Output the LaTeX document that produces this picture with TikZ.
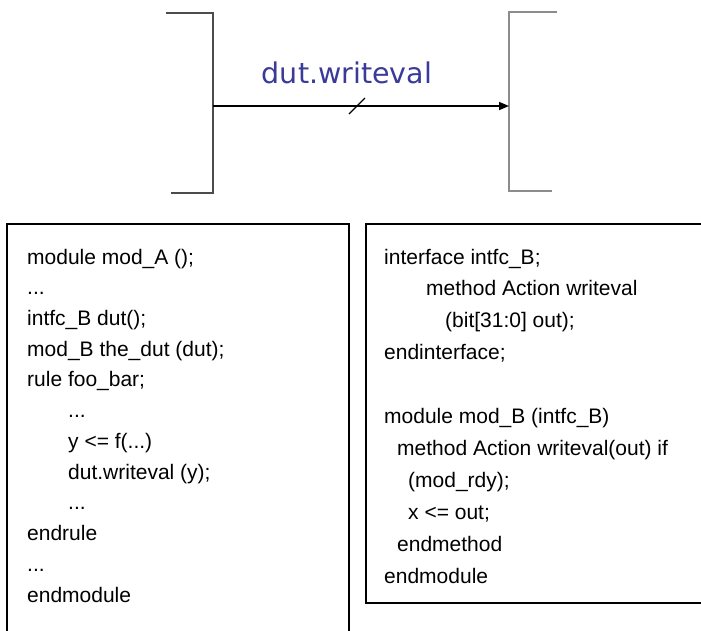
\documentclass[tikz,border=0pt]{standalone}
\usepackage{fontspec}
\setmainfont{Liberation Sans}
\newfontfamily\labelfont{DejaVu Sans}
\usetikzlibrary{arrows.meta}
\definecolor{lblblue}{HTML}{3A3A98}
\begin{document}
\begin{tikzpicture}[x=1pt,y=-1pt,
  code/.style={anchor=base west, inner sep=0pt, font=\fontsize{21}{21}\selectfont},
  boxline/.style={line width=1.6pt, black},
  bracketL/.style={line width=1.5pt, color=black!70},
  bracketR/.style={line width=1.5pt, color=black!45},
]
\useasboundingbox (0,0) rectangle (701,630);
% top part
\draw[bracketL] (166,13) -- (213,13) -- (213,193) -- (171,193);
\draw[bracketR] (557,12) -- (509,12) -- (509,191) -- (552,191);
\coordinate (src) at (213,106);
\coordinate (dst) at (509,106);
\draw[line width=1.7pt, -{Triangle[length=10pt,width=8pt]}] (src) -- (dst);
\coordinate (s1) at (349,114);
\coordinate (s2) at (365,98);
\draw[line width=1.2pt] (s1) -- (s2);
\node[anchor=base, inner sep=0pt, font=\labelfont\fontsize{28.5}{28.5}\selectfont, text=lblblue] (lbl) at (347,83) {dut.writeval};
% boxes
\draw[boxline] (7,632) -- (7,224) -- (349,224) -- (349,632);
\draw[boxline] (703,603) -- (366,603) -- (366,224) -- (703,224);
% left code
\node[code] (a1) at (27,264) {module mod\_A ();};
\node[code] (a2) at (27,294.7) {...};
\node[code] (a3) at (27,325.5) {intfc\_B dut();};
\node[code] (a4) at (27,356.2) {mod\_B the\_dut (dut);};
\node[code] (a5) at (27,386.9) {rule foo\_bar;};
\node[code] (a6) at (68,417.6) {...};
\node[code] (a7) at (68,448.4) {y <= f(...)};
\node[code] (a8) at (68,479.1) {dut.writeval (y);};
\node[code] (a9) at (68,509.8) {...};
\node[code] (a10) at (27,540.5) {endrule};
\node[code] (a11) at (27,571.3) {...};
\node[code] (a12) at (27,602) {endmodule};
% right code
\node[code] (b1) at (384,264) {interface intfc\_B;};
\node[code] (b2) at (426,295.9) {method Action writeval};
\node[code] (b3) at (445,327.8) {(bit[31:0] out);};
\node[code] (b4) at (384,359.7) {endinterface;};
\node[code] (b5) at (384,423.5) {module mod\_B (intfc\_B)};
\node[code] (b6) at (397,455.4) {method Action writeval(out) if};
\node[code] (b7) at (408,487.3) {(mod\_rdy);};
\node[code] (b8) at (408,519.2) {x <= out;};
\node[code] (b9) at (397,551.1) {endmethod};
\node[code] (b10) at (384,583) {endmodule};
\end{tikzpicture}
\end{document}
